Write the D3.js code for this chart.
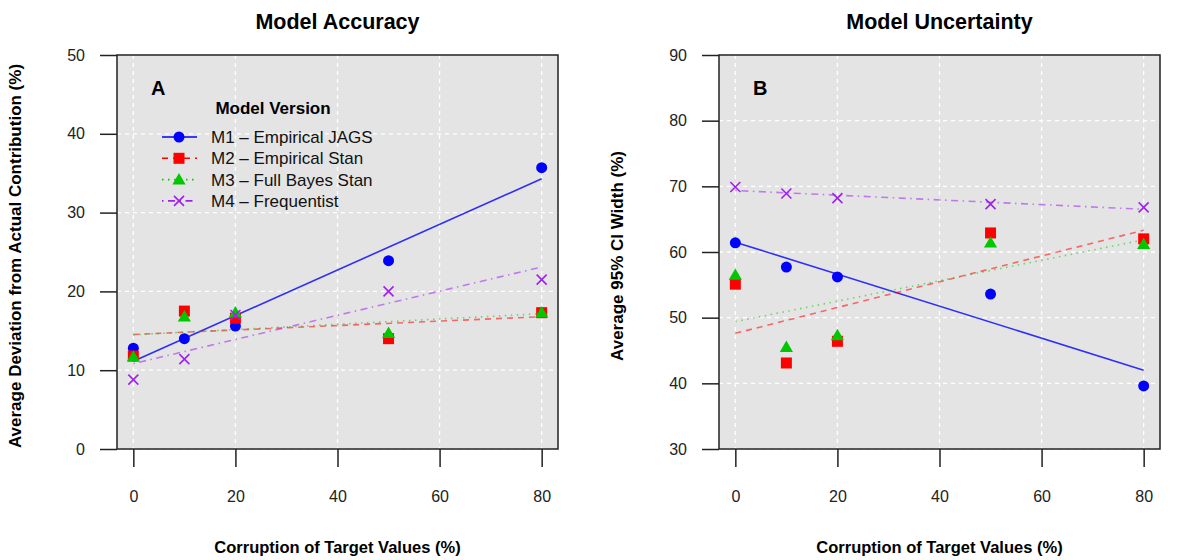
<!DOCTYPE html>
<html>
<head>
<meta charset="utf-8">
<script src="https://cdn.jsdelivr.net/npm/d3@7"></script>
<style>
    body { margin: 0; background: #fff; }
    svg text { font-family: "Liberation Sans", Arial, sans-serif; }
</style>
</head>
<body>
<div id="chart"></div>
<script>
// corruption levels on the x axis
var corruption = [0, 10, 20, 50, 80];
var xTicks = [0, 20, 40, 60, 80];

// panel A - average deviation (%)
var accM1 = [12.8, 14.0, 15.6, 23.9, 35.7];
var accM2 = [11.8, 17.5, 16.6, 14.0, 17.3];
var accM3 = [11.7, 16.8, 17.3, 14.7, 17.3];
var accM4 = [8.8, 11.4, 17.0, 20.0, 21.5];
var accTicks = [0, 10, 20, 30, 40, 50];

// panel B - average 95% CI width (%)
var uncM1 = [61.4, 57.7, 56.2, 53.6, 39.6];
var uncM2 = [55.1, 43.1, 46.4, 62.9, 62.0];
var uncM3 = [56.5, 45.5, 47.3, 61.4, 61.2];
var uncM4 = [69.9, 68.9, 68.2, 67.3, 66.8];
var uncTicks = [30, 40, 50, 60, 70, 80, 90];

var modelNames = ["M1 \u2013 Empirical JAGS", "M2 \u2013 Empirical Stan", "M3 \u2013 Full Bayes Stan", "M4 \u2013 Frequentist"];

var styles = [
    {color: "#0000ff", dash: null, shape: "circle"},
    {color: "#ff0000", dash: "6,5", shape: "square"},
    {color: "#00c800", dash: "1.5,4.5", shape: "triangle"},
    {color: "#a020f0", dash: "1.5,4.5,7,4.5", shape: "cross"}
];

var svg = d3.select("#chart").append("svg")
    .attr("width", 1180)
    .attr("height", 560);

// least squares line through one series
function fitLine(xs, ys) {
    var mx = d3.mean(xs), my = d3.mean(ys);
    var sxy = d3.sum(xs, function(x, i) { return (x - mx) * (ys[i] - my); });
    var sxx = d3.sum(xs, function(x) { return (x - mx) * (x - mx); });
    var b = sxy / sxx;
    var a = my - b * mx;
    var x0 = d3.min(xs), x1 = d3.max(xs);
    return [[x0, a + b * x0], [x1, a + b * x1]];
}

function drawMarker(g, shape, color, cx, cy) {
    if (shape == "circle") {
        g.append("circle").attr("cx", cx).attr("cy", cy).attr("r", 5.5).attr("fill", color);
    } else if (shape == "square") {
        g.append("rect").attr("x", cx - 5.5).attr("y", cy - 5.5).attr("width", 11).attr("height", 11).attr("fill", color);
    } else if (shape == "triangle") {
        g.append("path")
            .attr("d", d3.symbol().type(d3.symbolTriangle).size(75)())
            .attr("transform", "translate(" + cx + "," + (cy + 1) + ")")
            .attr("fill", color);
    } else {
        g.append("path")
            .attr("d", "M-5,-5L5,5M-5,5L5,-5")
            .attr("transform", "translate(" + cx + "," + cy + ")")
            .attr("stroke", color)
            .attr("stroke-width", 1.6)
            .attr("fill", "none");
    }
}

Panel = function(opts) {
    var vis = this;
    vis.opts = opts;
    vis.initVis();
}

Panel.prototype.initVis = function() {
    var vis = this;
    var o = vis.opts;

    vis.left = o.left;
    vis.right = o.left + 441;
    vis.top = 55;
    vis.bottom = 449;

    vis.x = d3.scaleLinear().domain([-3.2, 83.2]).range([vis.left, vis.right]);
    vis.y = d3.scaleLinear().domain(o.yDomain).range([vis.bottom, vis.top]);

    vis.g = svg.append("g");

    // background
    vis.g.append("rect")
        .attr("x", vis.left).attr("y", vis.top)
        .attr("width", vis.right - vis.left).attr("height", vis.bottom - vis.top)
        .attr("fill", "#e4e4e4");

    // grid
    vis.g.selectAll(".vgrid").data(xTicks).enter().append("line")
        .attr("x1", function(d) { return vis.x(d); })
        .attr("x2", function(d) { return vis.x(d); })
        .attr("y1", vis.top).attr("y2", vis.bottom)
        .attr("stroke", "#fff").attr("stroke-width", 1.3).attr("stroke-dasharray", "4,4");

    vis.g.selectAll(".hgrid").data(o.yTicks).enter().append("line")
        .attr("x1", vis.left).attr("x2", vis.right)
        .attr("y1", function(d) { return vis.y(d); })
        .attr("y2", function(d) { return vis.y(d); })
        .attr("stroke", "#fff").attr("stroke-width", 1.3).attr("stroke-dasharray", "4,4");

    // axes
    var yAxis = d3.axisLeft(vis.y).tickValues(o.yTicks).tickSize(17).tickPadding(15);
    var xAxis = d3.axisBottom(vis.x).tickValues(xTicks).tickSize(18).tickPadding(24);

    var ya = vis.g.append("g").attr("transform", "translate(" + vis.left + ",0)").call(yAxis);
    var xa = vis.g.append("g").attr("transform", "translate(0," + vis.bottom + ")").call(xAxis);
    [ya, xa].forEach(function(a) {
        a.select(".domain").remove();
        a.selectAll("line").attr("stroke", "#222").attr("stroke-width", 1.5);
        a.selectAll("text").attr("fill", "#222").style("font-size", "16px");
    });

    // fit lines
    o.series.forEach(function(s, i) {
        var pts = fitLine(corruption, s);
        vis.g.append("line")
            .attr("x1", vis.x(pts[0][0])).attr("y1", vis.y(pts[0][1]))
            .attr("x2", vis.x(pts[1][0])).attr("y2", vis.y(pts[1][1]))
            .attr("stroke", styles[i].color)
            .attr("stroke-opacity", i == 0 ? 0.8 : 0.55)
            .attr("stroke-width", 1.6)
            .attr("stroke-dasharray", styles[i].dash);
    });

    // points
    o.series.forEach(function(s, i) {
        s.forEach(function(v, j) {
            drawMarker(vis.g, styles[i].shape, styles[i].color, vis.x(corruption[j]), vis.y(v));
        });
    });

    // box
    vis.g.append("rect")
        .attr("x", vis.left).attr("y", vis.top)
        .attr("width", vis.right - vis.left).attr("height", vis.bottom - vis.top)
        .attr("fill", "none").attr("stroke", "#222").attr("stroke-width", 1.5);

    // panel letter
    vis.g.append("text")
        .attr("x", vis.left + 34).attr("y", vis.top + 40)
        .style("font-size", "20px").style("font-weight", "bold")
        .text(o.letter);

    // titles
    vis.g.append("text")
        .attr("x", (vis.left + vis.right) / 2).attr("y", 29)
        .attr("text-anchor", "middle")
        .style("font-size", "21.5px").style("font-weight", "bold")
        .text(o.title);

    vis.g.append("text")
        .attr("x", (vis.left + vis.right) / 2).attr("y", 553)
        .attr("text-anchor", "middle")
        .style("font-size", "16.5px").style("font-weight", "bold")
        .text("Corruption of Target Values (%)");

    vis.g.append("text")
        .attr("transform", "translate(" + (vis.left - 96) + "," + ((vis.top + vis.bottom) / 2 + 4) + ") rotate(-90)")
        .attr("text-anchor", "middle")
        .style("font-size", "17px").style("font-weight", "bold")
        .text(o.yLabel);

    if (o.legend) vis.drawLegend();
}

Panel.prototype.drawLegend = function() {
    var vis = this;
    var lg = vis.g.append("g").attr("transform", "translate(" + (vis.left + 45) + ",0)");

    lg.append("text")
        .attr("x", 111).attr("y", 114)
        .attr("text-anchor", "middle")
        .style("font-size", "17px").style("font-weight", "bold")
        .text("Model Version");

    var rows = lg.selectAll(".row").data(modelNames).enter().append("g")
        .attr("transform", function(d, i) { return "translate(0," + (137 + i * 21.3) + ")"; });

    rows.append("line")
        .attr("x1", 0).attr("x2", 35).attr("y1", 0).attr("y2", 0)
        .attr("stroke", function(d, i) { return styles[i].color; })
        .attr("stroke-width", 1.6)
        .attr("stroke-dasharray", function(d, i) { return styles[i].dash; });

    rows.each(function(d, i) {
        drawMarker(d3.select(this), styles[i].shape, styles[i].color, 17, 0);
    });

    rows.append("text")
        .attr("x", 49).attr("y", 6)
        .style("font-size", "17px")
        .attr("fill", "#111")
        .text(function(d) { return d; });
}

new Panel({
    left: 117,
    yDomain: [0, 50],
    yTicks: accTicks,
    series: [accM1, accM2, accM3, accM4],
    letter: "A",
    title: "Model Accuracy",
    yLabel: "Average Deviation from Actual Contribution (%)",
    legend: true
});

new Panel({
    left: 719,
    yDomain: [30, 90],
    yTicks: uncTicks,
    series: [uncM1, uncM2, uncM3, uncM4],
    letter: "B",
    title: "Model Uncertainty",
    yLabel: "Average 95% CI Width (%)",
    legend: false
});
</script>
</body>
</html>
